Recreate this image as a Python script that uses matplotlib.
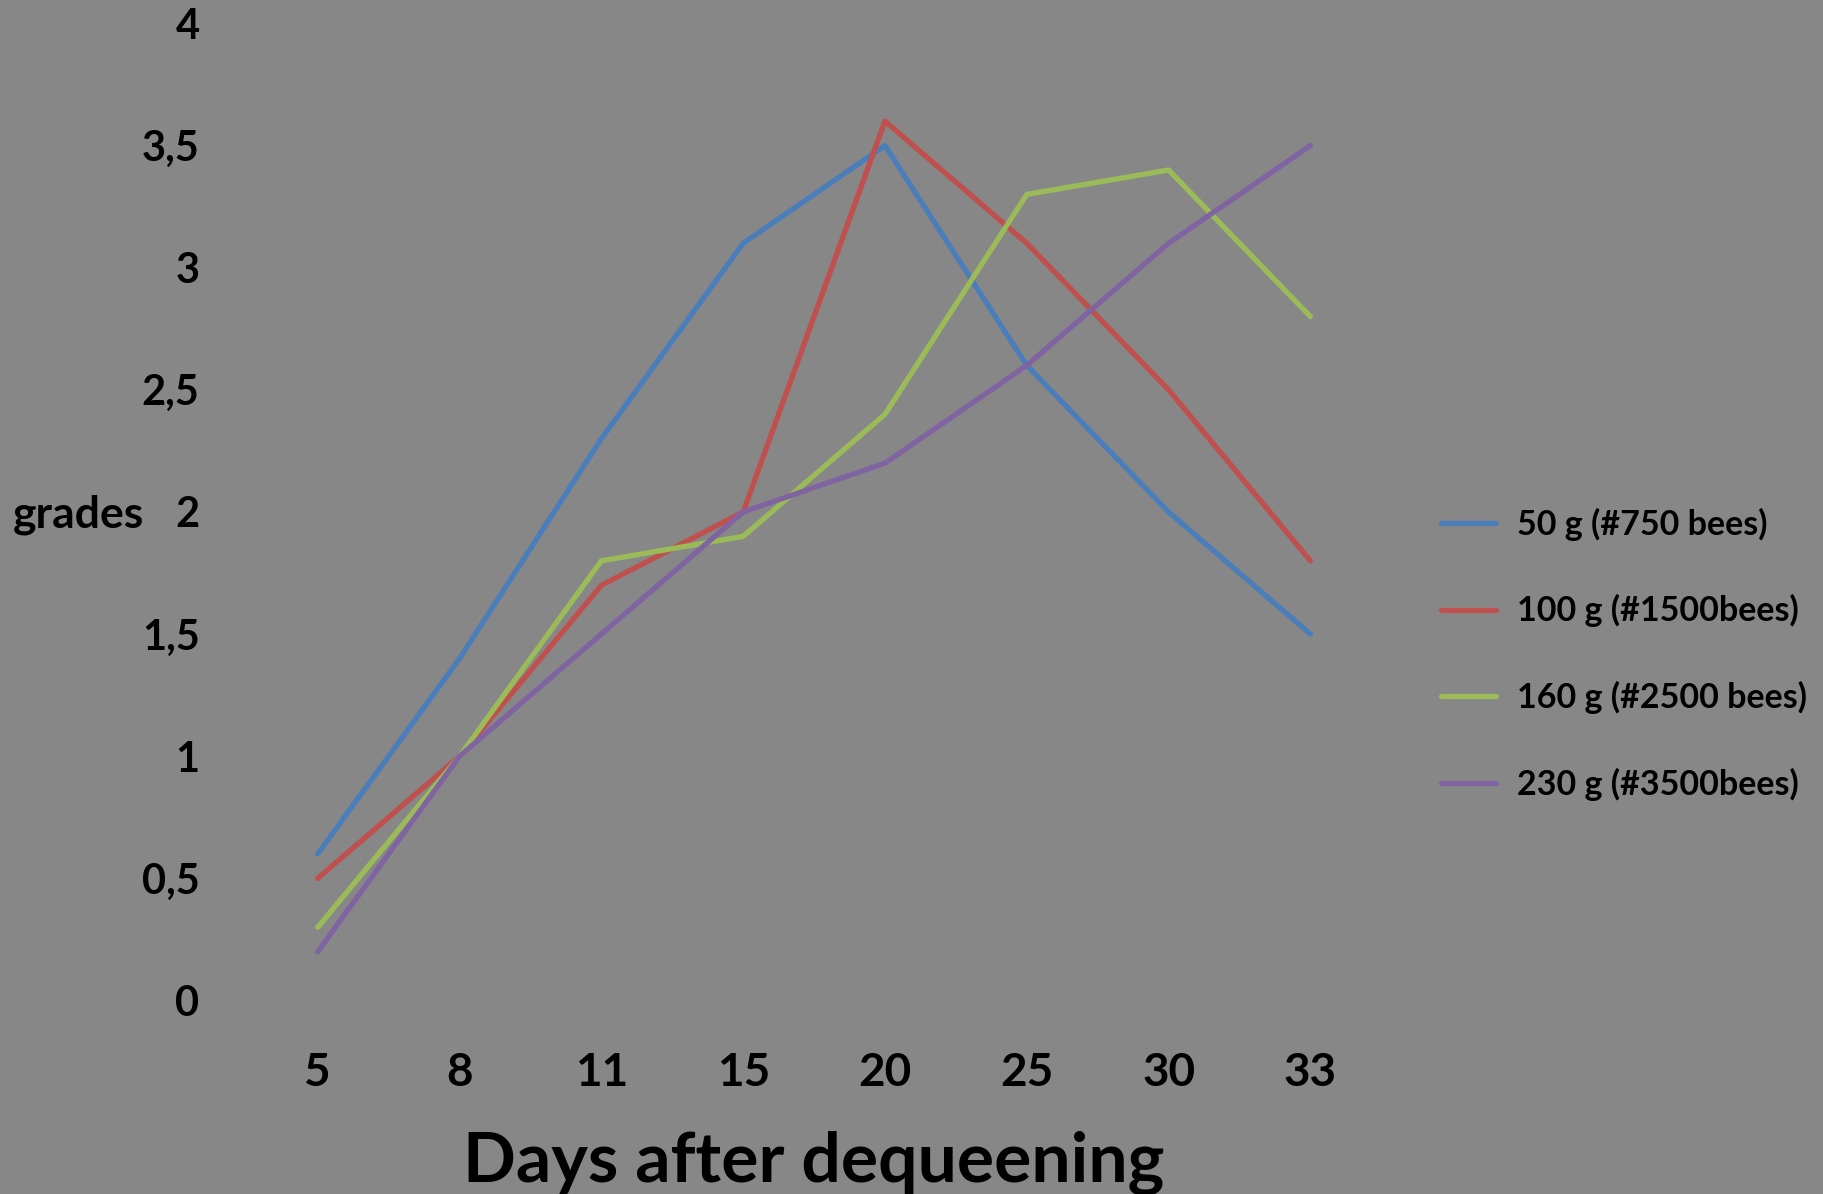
import matplotlib
matplotlib.use('Agg')
import matplotlib.pyplot as plt
from matplotlib.ticker import FuncFormatter

# Daten
tage = ['5', '8', '11', '15', '20', '25', '30', '33']
g50 = [0.6, 1.4, 2.3, 3.1, 3.5, 2.6, 2.0, 1.5]
g100 = [0.5, 1.0, 1.7, 2.0, 3.6, 3.1, 2.5, 1.8]
g160 = [0.3, 1.0, 1.8, 1.9, 2.4, 3.3, 3.4, 2.8]
g230 = [0.2, 1.0, 1.5, 2.0, 2.2, 2.6, 3.1, 3.5]
namen = ['50 g (#750 bees)', '100 g (#1500bees)', '160 g (#2500 bees)', '230 g (#3500bees)']
farben = ['#4a7ebb', '#c0504d', '#9bbb59', '#8064a2']

plt.rcParams['font.family'] = ['Lato', 'DejaVu Sans']
plt.rcParams['font.weight'] = 'bold'

bg = '#878787'
fig = plt.figure(figsize=(18.24, 11.94), dpi=100, facecolor=bg)
ax = fig.add_axes([0.1353, 0.162, 0.622, 0.8184], facecolor=bg)

x = range(len(tage))
for werte, name, farbe in zip([g50, g100, g160, g230], namen, farben):
    ax.plot(x, werte, color=farbe, linewidth=3.8, label=name, solid_capstyle='round')

ax.set_xlim(-0.5, len(tage) - 0.5)
ax.set_ylim(0, 4)
ax.set_xticks(list(x))
ax.set_xticklabels(tage)
ax.set_yticks([0, 0.5, 1, 1.5, 2, 2.5, 3, 3.5, 4])
ax.yaxis.set_major_formatter(FuncFormatter(lambda v, p: ('%g' % v).replace('.', ',')))
ax.tick_params(length=0)
ax.tick_params(axis='y', labelsize=30, pad=34)
ax.tick_params(axis='x', labelsize=33, pad=37)
for s in ax.spines.values():
    s.set_visible(False)

ax.set_xlabel('Days after dequeening', fontsize=50, fontweight='bold', labelpad=27)
fig.text(0.007, 1 - 515 / 1194, 'grades', fontsize=32, fontweight='bold', va='center', ha='left')

ax.legend(loc='center left', bbox_to_anchor=(0.79, 0.452), bbox_transform=fig.transFigure,
          frameon=False, fontsize=24.5, handlelength=1.62, handletextpad=0.62,
          labelspacing=1.58, borderpad=0, borderaxespad=0)

fig.savefig('out.png', dpi=100, facecolor=bg)
